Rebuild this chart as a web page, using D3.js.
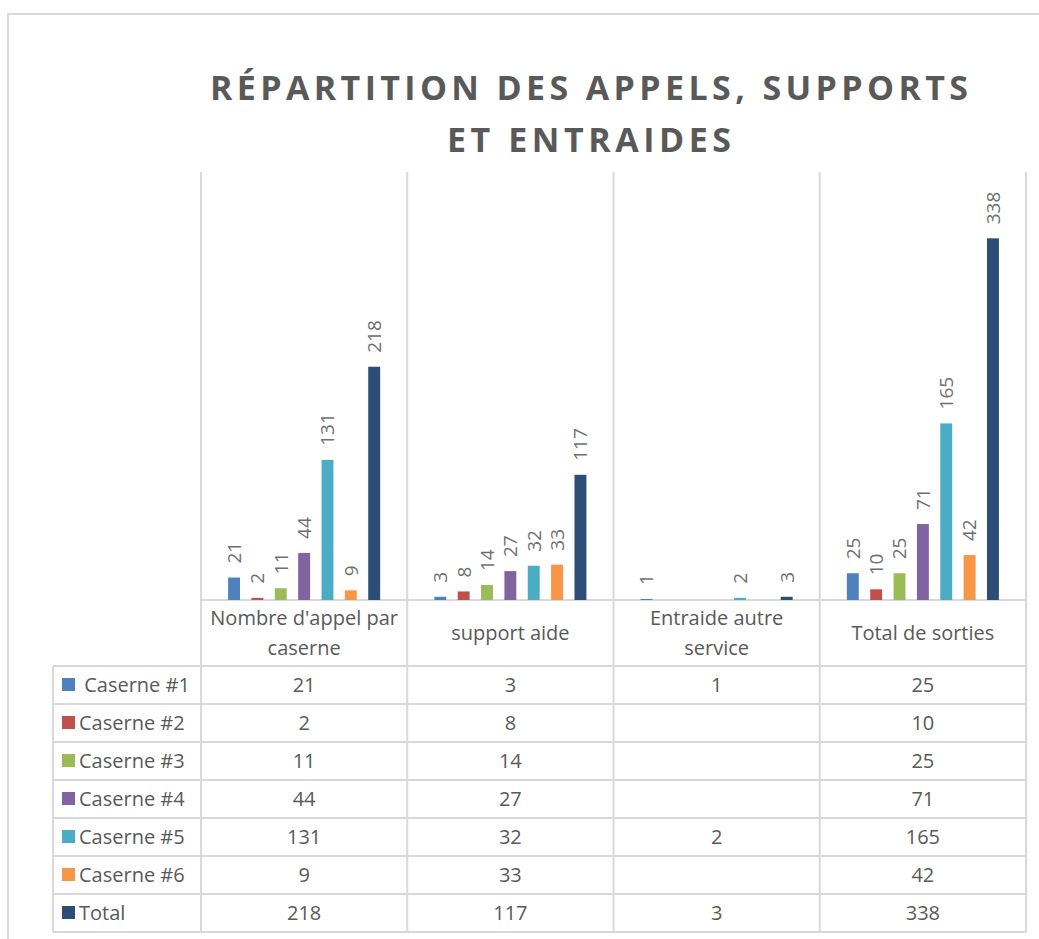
<!DOCTYPE html>
<html>
<head>
<meta charset="utf-8">
<script src="https://cdn.jsdelivr.net/npm/d3@7"></script>
<style>
  body { margin: 0; background: #fff; }
  text { font-family: "Open Sans", "Noto Sans", sans-serif; }
</style>
</head>
<body>
<svg id="chart" width="1039" height="939"></svg>
<script>
// categories (two lines where the reference wraps)
var categories = ["Nombre d'appel par caserne", "support aide", "Entraide autre service", "Total de sorties"];
var categoryLines = [["Nombre d'appel par", "caserne"], ["support aide"], ["Entraide autre", "service"], ["Total de sorties"]];

var seriesNames = [" Caserne #1", "Caserne #2", "Caserne #3", "Caserne #4", "Caserne #5", "Caserne #6", "Total"];
var seriesColors = ["#4F81BD", "#C0504D", "#9BBB59", "#8064A2", "#4BACC6", "#F79646", "#2C4D75"];

// one array per series, one value per category (null = empty cell)
var caserne1 = [21, 3, 1, 25];
var caserne2 = [2, 8, null, 10];
var caserne3 = [11, 14, null, 25];
var caserne4 = [44, 27, null, 71];
var caserne5 = [131, 32, 2, 165];
var caserne6 = [9, 33, null, 42];
var total    = [218, 117, 3, 338];

var seriesValues = [caserne1, caserne2, caserne3, caserne4, caserne5, caserne6, total];

var yMax = 400;

var svg = d3.select("#chart");
var grid = "#d9d9d9";
var txt = "#595959";

// outer chart border
svg.append("path")
    .attr("d", "M8,939 L8,14 L1039,14")
    .attr("fill", "none")
    .attr("stroke", grid)
    .attr("stroke-width", 2);

// title
var title = ["RÉPARTITION DES APPELS, SUPPORTS", "ET ENTRAIDES"];
var titleW = [758, 284];
svg.selectAll(".title").data(title).enter().append("text")
    .attr("class", "title")
    .attr("x", 589)
    .attr("y", function(d, i){ return 100 + i * 52; })
    .attr("text-anchor", "middle")
    .attr("textLength", function(d, i){ return titleW[i]; })
    .attr("lengthAdjust", "spacing")
    .style("font-size", "34px")
    .style("font-weight", "bold")
    .style("fill", txt)
    .text(function(d){ return d; });

// scales
var plotLeft = 201, plotRight = 1026, plotTop = 172, plotBottom = 600;
var x0 = d3.scaleBand().domain(categories).range([plotLeft, plotRight]).padding(0);
var x1 = d3.scaleBand().domain(seriesNames).range([0, x0.bandwidth()])
    .paddingInner(0.49).paddingOuter(1.16);
var y = d3.scaleLinear().domain([0, yMax]).range([plotBottom, plotTop]);

// table geometry
var headerBottom = 666, rowH = 38, tableLeft = 53;
var tableBottom = headerBottom + rowH * seriesNames.length;

// vertical grid lines at category edges
var edges = categories.map(function(c){ return x0(c); }).concat([plotRight]);
svg.selectAll(".vline").data(edges).enter().append("line")
    .attr("x1", function(d){ return d; }).attr("x2", function(d){ return d; })
    .attr("y1", plotTop).attr("y2", tableBottom)
    .attr("stroke", grid).attr("stroke-width", 2);

// axis line + table rows
svg.append("line")
    .attr("x1", plotLeft).attr("x2", plotRight)
    .attr("y1", plotBottom).attr("y2", plotBottom)
    .attr("stroke", grid).attr("stroke-width", 2);

var rowLines = d3.range(seriesNames.length + 1).map(function(i){ return headerBottom + i * rowH; });
svg.selectAll(".hline").data(rowLines).enter().append("line")
    .attr("x1", tableLeft).attr("x2", plotRight)
    .attr("y1", function(d){ return d; }).attr("y2", function(d){ return d; })
    .attr("stroke", grid).attr("stroke-width", 2);

svg.append("line")
    .attr("x1", tableLeft).attr("x2", tableLeft)
    .attr("y1", headerBottom).attr("y2", tableBottom)
    .attr("stroke", grid).attr("stroke-width", 2);

// bars
seriesValues.forEach(function(vals, s){
    var name = seriesNames[s];
    var pts = vals.map(function(v, i){ return {cat: categories[i], v: v}; })
        .filter(function(d){ return d.v !== null; });

    svg.selectAll(".bar" + s).data(pts).enter().append("rect")
        .attr("x", function(d){ return x0(d.cat) + x1(name); })
        .attr("y", function(d){ return y(d.v); })
        .attr("width", x1.bandwidth())
        .attr("height", function(d){ return plotBottom - y(d.v); })
        .attr("fill", seriesColors[s]);

    svg.selectAll(".lbl" + s).data(pts).enter().append("text")
        .attr("transform", function(d){
            var cx = x0(d.cat) + x1(name) + x1.bandwidth() / 2;
            return "translate(" + cx + "," + (y(d.v) - 14) + ") rotate(-90)";
        })
        .attr("dy", "0.36em")
        .style("font-size", "19px")
        .style("fill", "#6f6f6f")
        .text(function(d){ return d.v; });
});

// category labels in table header
categoryLines.forEach(function(lines, i){
    var cx = x0(categories[i]) + x0.bandwidth() / 2;
    var y0 = lines.length === 1 ? 640 : 625;
    lines.forEach(function(l, j){
        svg.append("text")
            .attr("x", cx).attr("y", y0 + j * 30)
            .attr("text-anchor", "middle")
            .style("font-size", "20px")
            .style("fill", txt)
            .text(l);
    });
});

// table rows: legend key + values
seriesNames.forEach(function(name, s){
    var rowMid = headerBottom + s * rowH + rowH / 2;
    svg.append("rect")
        .attr("x", 62).attr("y", rowMid - 7)
        .attr("width", 13).attr("height", 13)
        .attr("fill", seriesColors[s]);
    svg.append("text")
        .attr("x", 79).attr("y", rowMid + 7)
        .style("font-size", "20px")
        .style("fill", txt)
        .style("white-space", "pre")
        .text(name);
    seriesValues[s].forEach(function(v, i){
        if (v === null) return;
        svg.append("text")
            .attr("x", x0(categories[i]) + x0.bandwidth() / 2)
            .attr("y", rowMid + 7)
            .attr("text-anchor", "middle")
            .style("font-size", "20px")
            .style("fill", txt)
            .text(v);
    });
});
</script>
</body>
</html>
